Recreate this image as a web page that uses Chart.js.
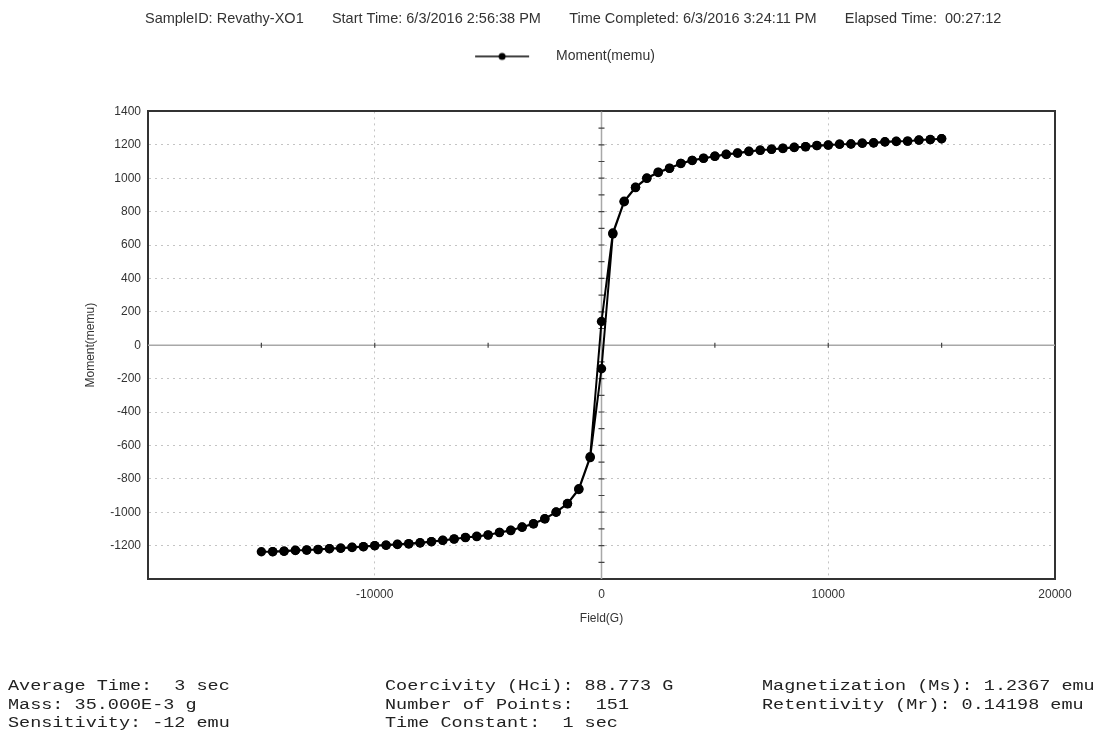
<!DOCTYPE html>
<html>
<head>
<meta charset="utf-8">
<title>Moment vs Field</title>
<script src="https://cdn.jsdelivr.net/npm/chart.js@4.4.0/dist/chart.umd.min.js"></script>
<style>
  html, body { margin: 0; padding: 0; background: #fff; }
  #wrap { position: relative; width: 1094px; height: 734px; overflow: hidden; }
  #momentChart { position: absolute; left: 0; top: 0; }
  .info {
    position: absolute; top: 677px;
    font-family: "Liberation Mono", monospace; font-size: 14px; line-height: 18.5px;
    color: #222; white-space: pre;
    transform-origin: 0 0; transform: scaleX(1.32);
  }
</style>
</head>
<body>
<div id="wrap">
  <canvas id="momentChart" width="1094" height="734"></canvas>
  <div class="info" style="left:8px">Average Time:  3 sec
Mass: 35.000E-3 g
Sensitivity: -12 emu</div>
  <div class="info" style="left:385px">Coercivity (Hci): 88.773 G
Number of Points:  151
Time Constant:  1 sec</div>
  <div class="info" style="left:762px">Magnetization (Ms): 1.2367 emu
Retentivity (Mr): 0.14198 emu</div>
</div>
<script>
// descending branch, 15000 G -> -15000 G
const fieldDown = [15000, 14500, 14000, 13500, 13000, 12500, 12000, 11500, 11000, 10500,
  10000, 9500, 9000, 8500, 8000, 7500, 7000, 6500, 6000, 5500,
  5000, 4500, 4000, 3500, 3000, 2500, 2000, 1500, 1000, 500,
  0, -500, -1000, -1500, -2000, -2500, -3000, -3500, -4000, -4500,
  -5000, -5500, -6000, -6500, -7000, -7500, -8000, -8500, -9000, -9500,
  -10000, -10500, -11000, -11500, -12000, -12500, -13000, -13500, -14000, -14500, -15000];
const momentDown = [1236, 1232, 1229, 1222, 1221, 1218, 1212, 1210, 1205, 1204,
  1199, 1196, 1189, 1185, 1179, 1174, 1168, 1161, 1151, 1143,
  1132, 1120, 1107, 1089, 1060, 1036, 1001, 946, 862, 672,
  142, -668, -860, -948, -999, -1039, -1069, -1089, -1110, -1122,
  -1137, -1146, -1152, -1161, -1169, -1177, -1184, -1190, -1193, -1198,
  -1201, -1207, -1211, -1216, -1219, -1224, -1227, -1229, -1234, -1237, -1237];

// ascending branch, -14500 G -> 15000 G
const fieldUp = [-14500, -14000, -13500, -13000, -12500, -12000, -11500, -11000, -10500,
  -10000, -9500, -9000, -8500, -8000, -7500, -7000, -6500, -6000, -5500,
  -5000, -4500, -4000, -3500, -3000, -2500, -2000, -1500, -1000, -500,
  0, 500, 1000, 1500, 2000, 2500, 3000, 3500, 4000, 4500,
  5000, 5500, 6000, 6500, 7000, 7500, 8000, 8500, 9000, 9500,
  10000, 10500, 11000, 11500, 12000, 12500, 13000, 13500, 14000, 14500, 15000];
const momentUp = [-1236, -1233, -1228, -1226, -1223, -1218, -1215, -1210, -1206,
  -1200, -1197, -1192, -1188, -1183, -1176, -1168, -1160, -1151, -1144,
  -1136, -1121, -1108, -1090, -1070, -1040, -1000, -950, -864, -673,
  -141, 666, 859, 944, 999, 1034, 1059, 1088, 1106, 1119,
  1131, 1142, 1150, 1160, 1167, 1173, 1178, 1184, 1188, 1195,
  1198, 1203, 1205, 1209, 1211, 1217, 1220, 1222, 1228, 1231, 1236];

const xTickValues = [-20000, -10000, 0, 10000, 20000];
const yTickValues = [-1400, -1200, -1000, -800, -600, -400, -200, 0, 200, 400, 600, 800, 1000, 1200, 1400];

// leading blanks move the centred header a little to the right, as in the original
const headerText = '             SampleID: Revathy-XO1       Start Time: 6/3/2016 2:56:38 PM       ' +
  'Time Completed: 6/3/2016 3:24:11 PM       Elapsed Time:  00:27:12';

const loopField = fieldDown.concat(fieldUp);
const loopMoment = momentDown.concat(momentUp);
const points = loopField.map((f, i) => ({ x: f, y: loopMoment[i] }));

const sans = 'Liberation Sans, Arial, sans-serif';
const gridDots = '#c4c4c4';
const frame = '#333';

// legend symbol: short line with a dot (blank margins shift it like the original)
const legendImg = document.createElement('canvas');
legendImg.width = 110;
legendImg.height = 10;
(function () {
  const c = legendImg.getContext('2d');
  c.strokeStyle = '#000';
  c.lineWidth = 1.5;
  c.beginPath(); c.moveTo(36, 5); c.lineTo(90, 5); c.stroke();
  c.fillStyle = '#000';
  c.beginPath(); c.arc(63, 5, 3.5, 0, Math.PI * 2); c.fill();
})();

// the solid zero lines with their small marks
const zeroAxes = {
  id: 'zeroAxes',
  beforeDatasetsDraw(chart) {
    const { ctx, chartArea: a, scales: { x, y } } = chart;
    const x0 = x.getPixelForValue(0);
    const y0 = y.getPixelForValue(0);
    ctx.save();
    ctx.strokeStyle = '#a8a8a8';
    ctx.lineWidth = 1.5;
    ctx.beginPath();
    ctx.moveTo(a.left, y0); ctx.lineTo(a.right, y0);
    ctx.moveTo(x0, a.top); ctx.lineTo(x0, a.bottom);
    ctx.stroke();
    ctx.strokeStyle = '#444';
    ctx.lineWidth = 1.2;
    ctx.beginPath();
    for (let v = -15000; v <= 15000; v += 5000) {
      if (v === 0) continue;
      const px = x.getPixelForValue(v);
      ctx.moveTo(px, y0 - 2.5); ctx.lineTo(px, y0 + 2.5);
    }
    for (let v = -1300; v <= 1300; v += 100) {
      if (v === 0) continue;
      const py = y.getPixelForValue(v);
      ctx.moveTo(x0 - 3, py); ctx.lineTo(x0 + 3, py);
    }
    ctx.stroke();
    ctx.restore();
  }
};

const hideEdge = (edge) => (ctx) => (ctx.tick && (ctx.tick.value === 0 || Math.abs(ctx.tick.value) === edge)) ? 'rgba(0,0,0,0)' : gridDots;

new Chart(document.getElementById('momentChart').getContext('2d'), {
  type: 'line',
  data: {
    datasets: [{
      label: 'Moment(memu)',
      data: points,
      borderColor: '#000',
      backgroundColor: '#000',
      borderWidth: 2,
      pointRadius: 4.7,
      pointBorderWidth: 0,
      pointBackgroundColor: '#000',
      tension: 0
    }]
  },
  options: {
    responsive: false,
    animation: false,
    layout: { padding: 0 },
    plugins: {
      title: {
        display: true,
        text: headerText,
        color: '#333',
        font: { family: sans, size: 14.5, weight: 'normal' },
        padding: { top: 10, bottom: 12 }
      },
      legend: {
        labels: {
          usePointStyle: true,
          pointStyleWidth: 110,
          color: '#333',
          font: { family: sans, size: 14 },
          generateLabels: () => [{
            text: 'Moment(memu)', pointStyle: legendImg, fillStyle: '#000',
            strokeStyle: '#000', lineWidth: 0, hidden: false, datasetIndex: 0, fontColor: '#333'
          }]
        },
        onClick: () => {}
      },
      tooltip: { enabled: false }
    },
    scales: {
      x: {
        type: 'linear',
        position: 'bottom',
        min: -20000, max: 20000,
        afterBuildTicks: (s) => { s.ticks = xTickValues.map(v => ({ value: v })); },
        afterFit: (s) => { s.height = 155; },
        grid: { color: hideEdge(20000), drawTicks: false, lineWidth: 1 },
        border: { display: true, color: frame, width: 2, dash: [2, 4] },
        ticks: {
          padding: 8, color: '#333', font: { family: sans, size: 12 },
          callback: (v) => v === -20000 ? '' : String(v)
        },
        title: {
          display: true, text: 'Field(G)', color: '#333',
          font: { family: sans, size: 12 }, padding: { top: 0, bottom: 108 }
        }
      },
      y: {
        type: 'linear',
        position: 'left',
        min: -1400, max: 1400,
        afterBuildTicks: (s) => { s.ticks = yTickValues.map(v => ({ value: v })); },
        afterFit: (s) => { s.width = 148; },
        grid: { color: hideEdge(1400), drawTicks: false, lineWidth: 1 },
        border: { display: true, color: frame, width: 2, dash: [2, 4] },
        ticks: {
          padding: 7, color: '#333', font: { family: sans, size: 12 },
          callback: (v) => v === -1400 ? '' : String(v)
        },
        title: {
          display: true, text: 'Moment(memu)', color: '#333',
          font: { family: sans, size: 12 }, padding: { top: 83, bottom: 0 }
        }
      },
      x2: {
        type: 'linear', axis: 'x', position: 'top',
        min: -20000, max: 20000,
        grid: { display: false },
        ticks: { display: false },
        border: { display: true, color: frame, width: 2 },
        afterFit: (s) => { s.height = 38; }
      },
      y2: {
        type: 'linear', axis: 'y', position: 'right',
        min: -1400, max: 1400,
        grid: { display: false },
        ticks: { display: false },
        border: { display: true, color: frame, width: 2 },
        afterFit: (s) => { s.width = 39; }
      }
    }
  },
  plugins: [zeroAxes]
});
</script>
</body>
</html>
